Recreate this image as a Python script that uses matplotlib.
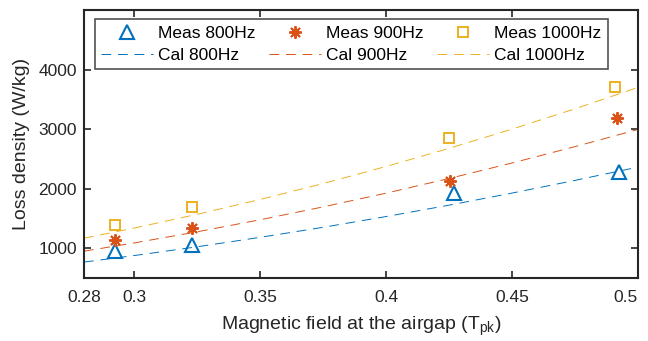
import matplotlib
matplotlib.use('Agg')
import matplotlib.pyplot as plt

plt.rcParams['font.family'] = ['Liberation Sans', 'DejaVu Sans']
plt.rcParams['mathtext.fontset'] = 'custom'
plt.rcParams['mathtext.rm'] = 'Liberation Sans'
plt.rcParams['mathtext.it'] = 'Liberation Sans:italic'

# measured points
b_800 = [0.2925, 0.323, 0.427, 0.4925]
p_800 = [950, 1060, 1930, 2280]
b_900 = [0.2925, 0.323, 0.4255, 0.4915]
p_900 = [1135, 1335, 2135, 3185]
b_1000 = [0.2925, 0.323, 0.425, 0.491]
p_1000 = [1385, 1700, 2850, 3700]

# calculated curves
b_cal = [0.28, 0.30, 0.325, 0.35, 0.375, 0.40, 0.425, 0.45, 0.475, 0.50]
cal_800 = [767, 877, 1024, 1183, 1351, 1532, 1723, 1926, 2139, 2362]
cal_900 = [950, 1089, 1276, 1478, 1694, 1925, 2171, 2431, 2706, 2994]
cal_1000 = [1167, 1339, 1570, 1819, 2086, 2373, 2677, 3000, 3341, 3700]

xticks = [0.28, 0.3, 0.35, 0.4, 0.45, 0.5]
xtick_labels = ['0.28', '0.3', '0.35', '0.4', '0.45', '0.5']
yticks = [1000, 2000, 3000, 4000]

blue = '#0072BD'
red = '#D95319'
yellow = '#EDB120'
dark = '#262626'
fs = 12.5

fig = plt.figure(figsize=(6.48, 3.41), dpi=100)
ax = fig.add_axes([0.1296, 0.1848, 0.8550, 0.7859])

m1, = ax.plot(b_800, p_800, ls='none', marker='^', ms=10, mfc='none',
              mec=blue, mew=1.5, label='Meas 800Hz')
m2, = ax.plot(b_900, p_900, ls='none', marker=(8, 2, 0), ms=9,
              mec=red, mew=1.4, label='Meas 900Hz')
m3, = ax.plot(b_1000, p_1000, ls='none', marker='s', ms=7, mfc='none',
              mec=yellow, mew=1.4, label='Meas 1000Hz')
c1, = ax.plot(b_cal, cal_800, ls=(0, (10, 7)), lw=0.7, color=blue, label='Cal 800Hz')
c2, = ax.plot(b_cal, cal_900, ls=(0, (10, 7)), lw=0.7, color=red, label='Cal 900Hz')
c3, = ax.plot(b_cal, cal_1000, ls=(0, (10, 7)), lw=0.7, color=yellow, label='Cal 1000Hz')

ax.set_xlim(0.28, 0.5)
ax.set_ylim(500, 5000)
ax.set_xticks(xticks)
ax.set_xticklabels(xtick_labels)
ax.set_yticks(yticks)
ax.tick_params(direction='in', top=True, right=True, length=5, width=1.2,
               colors=dark, labelsize=fs)
ax.tick_params(axis='x', pad=9)
ax.tick_params(axis='y', pad=5)
ax.get_xticklabels()[-1].set_ha('right')
for s in ax.spines.values():
    s.set_linewidth(1.5)
    s.set_color(dark)

ax.set_xlabel(r'Magnetic field at the airgap (T$_{\mathrm{pk}}$)', fontsize=14,
              color=dark, labelpad=7)
ax.set_ylabel('Loss density (W/kg)', fontsize=14, color=dark, labelpad=6)

leg = ax.legend(handles=[m1, c1, m2, c2, m3, c3], ncol=3, loc='upper left',
                bbox_to_anchor=(0.02, 0.965), fontsize=fs, frameon=True,
                fancybox=False, edgecolor=dark, handlelength=3.0,
                handletextpad=0.3, columnspacing=0.75, borderpad=0.35,
                labelspacing=0.4, borderaxespad=0)
leg.get_frame().set_linewidth(1.2)

fig.savefig('out.png', dpi=100)
